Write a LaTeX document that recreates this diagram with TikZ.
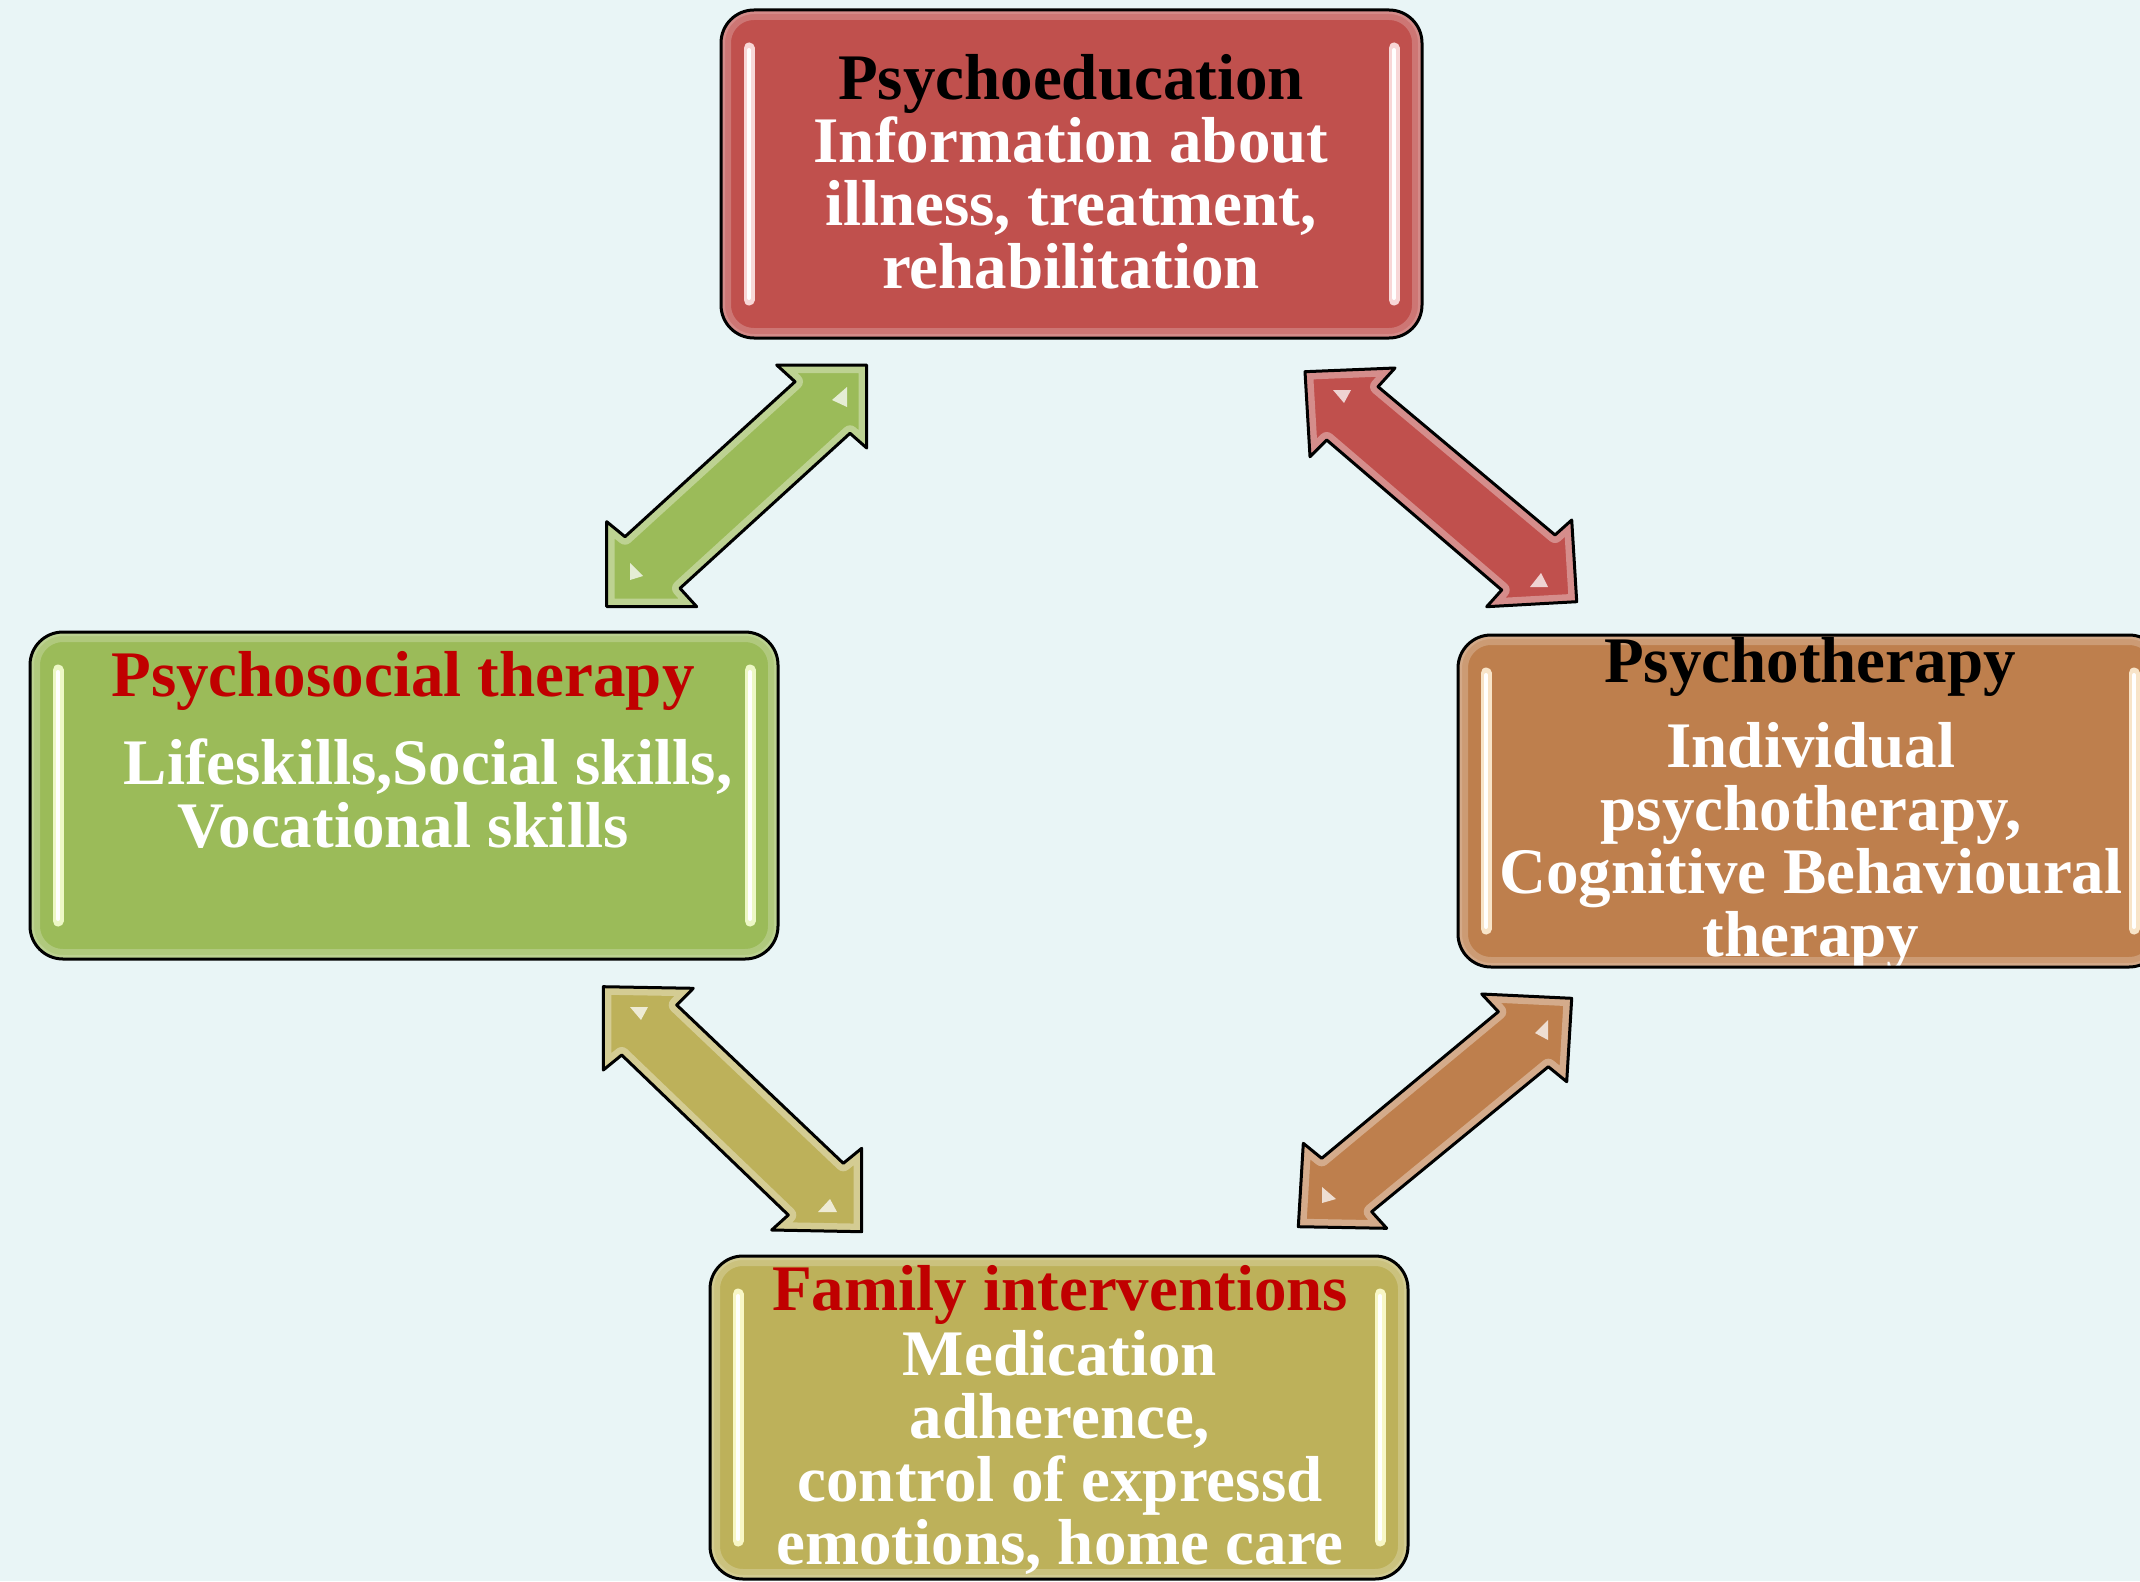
\documentclass[tikz,border=0pt]{standalone}
\usepackage{fontspec}
\setmainfont{Liberation Serif}
\definecolor{bgc}{HTML}{E9F5F6}
\definecolor{redc}{HTML}{C0504D}
\definecolor{greenc}{HTML}{9BBB59}
\definecolor{brownc}{HTML}{BE7F4D}
\definecolor{olivec}{HTML}{BDB15A}
\definecolor{titlered}{HTML}{C00000}
\definecolor{barred}{HTML}{FFE6E6}
\definecolor{bargreen}{HTML}{F6FFD2}
\definecolor{barbrown}{HTML}{FFF0D6}
\definecolor{barolive}{HTML}{FFFFD2}
\tikzset{
  gbox/.style 2 args={fill=#1, draw=none, rounded corners=33pt, inner sep=0pt, outer sep=0pt,
    path picture={
      \draw[white, opacity=0.22, line width=20pt, rounded corners=33pt]
        (path picture bounding box.south west) rectangle (path picture bounding box.north east);
      \draw[white, opacity=0.15, line width=8pt, rounded corners=33pt]
        (path picture bounding box.south west) rectangle (path picture bounding box.north east);
      \draw[#2, line width=11pt, line cap=round, opacity=0.9]
        ([xshift=28pt,yshift=-38pt]path picture bounding box.north west) --
        ([xshift=28pt,yshift=38pt]path picture bounding box.south west);
      \draw[#2, line width=11pt, line cap=round, opacity=0.9]
        ([xshift=-28pt,yshift=-38pt]path picture bounding box.north east) --
        ([xshift=-28pt,yshift=38pt]path picture bounding box.south east);
      \draw[white, line width=4pt, line cap=round]
        ([xshift=28pt,yshift=-40pt]path picture bounding box.north west) --
        ([xshift=28pt,yshift=40pt]path picture bounding box.south west);
      \draw[white, line width=4pt, line cap=round]
        ([xshift=-28pt,yshift=-40pt]path picture bounding box.north east) --
        ([xshift=-28pt,yshift=40pt]path picture bounding box.south east);
    }},
  bord/.style={draw=black, line width=3pt, rounded corners=33pt, fill=none, inner sep=0pt, outer sep=0pt},
  ttl/.style={font=\fontsize{65pt}{63pt}\selectfont\bfseries, anchor=base, inner sep=0pt, outer sep=0pt},
  bod/.style={ttl, text=white, align=center},
  barrow/.style={draw=black, line width=3pt, line join=round},
  hl/.style={fill=white, opacity=0.75}
}
\newcommand\blockarrow[2]{%
  \begin{scope}
    \fill[#1] #2;
    \clip #2;
    \draw[white, opacity=0.35, line width=16pt, line join=round] #2;
  \end{scope}
  \draw[barrow] #2;}
\begin{document}
\begin{tikzpicture}[x=1pt, y=-1pt]
\fill[bgc] (0,0) rectangle (2140,1581);
\useasboundingbox (0,0) rectangle (2140,1581);

% boxes
\node[gbox={redc}{barred}, minimum width=701pt, minimum height=328pt] (top) at (1071.5,174) {};
\node[bord, minimum width=701pt, minimum height=328pt] (topb) at (top) {};
\node[gbox={greenc}{bargreen}, minimum width=748pt, minimum height=327pt] (left) at (404,795.5) {};
\node[bord, minimum width=748pt, minimum height=327pt] (leftb) at (left) {};
\node[gbox={olivec}{barolive}, minimum width=698pt, minimum height=323pt] (bot) at (1059,1417.5) {};
\node[bord, minimum width=698pt, minimum height=323pt] (botb) at (bot) {};
\node[gbox={brownc}{barbrown}, minimum width=704pt, minimum height=332pt] (right) at (1810,801) {};

% texts (multi-line nodes: base = last line's baseline)
\node[ttl] (t1) at (1071,100) {Psychoeducation};
\node[bod] (b1) at (1071,288) {Information about\\illness, treatment,\\rehabilitation};
\node[ttl, text=titlered] (t2) at (403,696) {Psychosocial therapy};
\node[bod] (b2) at (428,847) {Lifeskills,Social skills,\\Vocational skills\hspace*{50pt}};
\node[ttl, text=titlered] (t4) at (1060,1310) {Family interventions};
\node[bod] (b4) at (1060,1564) {Medication\\adherence,\\control of expressd\\emotions, home care};
\begin{scope}
  \clip (1440,600) rectangle (2140,966);
  \node[ttl] (t3) at (1810,682) {Psychotherapy};
  \node[bod] (b3) at (1811,956) {Individual\\psychotherapy,\\Cognitive Behavioural\\therapy};
\end{scope}
\node[bord, minimum width=704pt, minimum height=332pt] (rightb) at (right) {};

% block arrows
\blockarrow{greenc}{(866.7,365) -- (866.7,448) -- (850,433.3) -- (680,588.3) -- (696.7,606.7) -- (606.7,606.7) -- (606.7,521.7) -- (625,536.7) -- (795,381.7) -- (776.7,365) -- cycle}
\blockarrow{redc}{(1305,371.7) -- (1395,368) -- (1378,386.7) -- (1555,535) -- (1571.7,520) -- (1576.7,601.7) -- (1486.7,606.7) -- (1501.7,590) -- (1326.7,440) -- (1310,456.7) -- cycle}
\blockarrow{olivec}{(603.3,986.7) -- (693.3,988.3) -- (676.7,1005) -- (843.3,1163.3) -- (861.7,1148.3) -- (861.7,1231.7) -- (771.7,1230) -- (788.3,1215) -- (621.7,1055) -- (603.3,1070) -- cycle}
\blockarrow{brownc}{(1571.7,998.3) -- (1566.7,1081.7) -- (1548.3,1066.7) -- (1371.7,1211.7) -- (1386.7,1228.3) -- (1298.3,1226.7) -- (1303.3,1143.3) -- (1321.7,1158.3) -- (1498.3,1011.7) -- (1481.7,994) -- cycle}

% small highlights in arrow heads
\fill[hl] (847,387) -- (847,407) -- (832,400) -- cycle;
\fill[hl] (630,563) -- (630,580) -- (643,576) -- cycle;
\fill[hl] (1333,390) -- (1351,390) -- (1344,403) -- cycle;
\fill[hl] (1530,587) -- (1548,587) -- (1541,573) -- cycle;
\fill[hl] (630,1007) -- (648,1007) -- (641,1020) -- cycle;
\fill[hl] (818,1212) -- (837,1212) -- (830,1199) -- cycle;
\fill[hl] (1548,1020) -- (1548,1040) -- (1535,1033) -- cycle;
\fill[hl] (1322,1187) -- (1322,1203) -- (1336,1199) -- cycle;
\end{tikzpicture}
\end{document}
